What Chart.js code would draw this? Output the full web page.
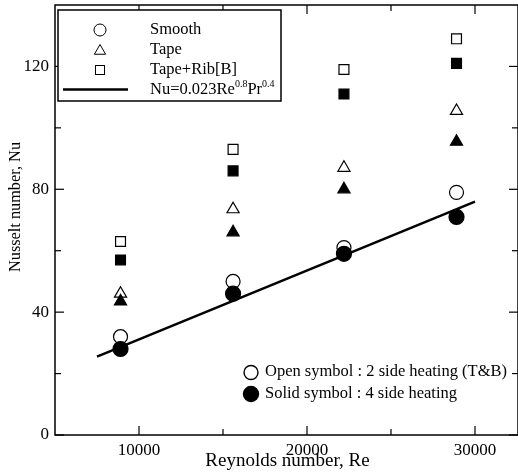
<!DOCTYPE html>
<html>
<head>
<meta charset="utf-8">
<script src="https://cdn.jsdelivr.net/npm/chart.js@4/dist/chart.umd.min.js"></script>
<style>
  html, body { margin: 0; padding: 0; background: #fff; }
  #wrap { position: relative; width: 518px; height: 475px; }
  canvas { display: block; }
</style>
</head>
<body>
<div id="wrap"><canvas id="c" width="518" height="475"></canvas></div>
<script>
// ---- data ----
const reynolds    = [8900, 15600, 22200, 28900];
const smoothOpen  = [32, 50, 61, 79];
const smoothSolid = [28, 46, 59, 71];
const tapeOpen    = [46, 73.5, 87, 105.5];
const tapeSolid   = [43.5, 66, 80, 95.5];
const ribOpen     = [63, 93, 119, 129];
const ribSolid    = [57, 86, 111, 121];
const fitRe       = [7500, 30000];
const fitNu       = [25.5, 76];
const xTickVals   = [10000, 20000, 30000];
const xMinorVals  = [15000, 25000];
const yTickVals   = [0, 40, 80, 120];
const yMinorVals  = [20, 60, 100];

const FONT = "'Liberation Serif', 'Times New Roman', serif";
const pts = (xs, ys) => xs.map((x, i) => ({x: x, y: ys[i]}));

function marker(data, style, radius, solid) {
  return {
    data: data,
    showLine: false,
    pointStyle: style,
    pointRadius: radius,
    pointHoverRadius: radius,
    pointBackgroundColor: solid ? '#000' : '#fff',
    pointBorderColor: '#000',
    pointBorderWidth: 1.2
  };
}

function noPad(s) { s.paddingTop = 0; s.paddingBottom = 0; s.paddingLeft = 0; s.paddingRight = 0; }

const frameAndTicks = {
  id: 'frameAndTicks',
  afterDraw(chart) {
    const ctx = chart.ctx;
    const a = chart.chartArea;
    const xs = chart.scales.x, ys = chart.scales.y;
    ctx.save();
    ctx.strokeStyle = '#000';
    ctx.lineWidth = 1.5;
    ctx.strokeRect(a.left, a.top, a.right - a.left, a.bottom - a.top);
    ctx.lineWidth = 1.2;
    const tick = (x1, y1, x2, y2) => { ctx.beginPath(); ctx.moveTo(x1, y1); ctx.lineTo(x2, y2); ctx.stroke(); };
    xTickVals.forEach(v => { const p = xs.getPixelForValue(v); tick(p, a.bottom, p, a.bottom - 9); tick(p, a.top, p, a.top + 9); });
    xMinorVals.forEach(v => { const p = xs.getPixelForValue(v); tick(p, a.bottom, p, a.bottom - 6); tick(p, a.top, p, a.top + 6); });
    yTickVals.forEach(v => { const p = ys.getPixelForValue(v); tick(a.left, p, a.left + 9, p); tick(a.right, p, a.right - 9, p); });
    yMinorVals.forEach(v => { const p = ys.getPixelForValue(v); tick(a.left, p, a.left + 6, p); tick(a.right, p, a.right - 6, p); });

    // axis titles
    ctx.fillStyle = '#000';
    ctx.font = '19px ' + FONT;
    ctx.textAlign = 'center';
    ctx.textBaseline = 'middle';
    ctx.fillText('Reynolds number, Re', 287.5, 461);
    ctx.save();
    ctx.translate(16, 207);
    ctx.rotate(-Math.PI / 2);
    ctx.font = '16.3px ' + FONT;
    ctx.fillText('Nusselt number, Nu', 0, 0);
    ctx.restore();

    // symbol helpers
    const circle = (x, y, r, solid) => { ctx.beginPath(); ctx.arc(x, y, r, 0, Math.PI * 2); ctx.fillStyle = solid ? '#000' : '#fff'; ctx.fill(); ctx.stroke(); };
    const tri = (x, y, r) => { ctx.beginPath(); ctx.moveTo(x, y - r); ctx.lineTo(x + r * 0.866, y + r / 2); ctx.lineTo(x - r * 0.866, y + r / 2); ctx.closePath(); ctx.fillStyle = '#fff'; ctx.fill(); ctx.stroke(); };
    const sq = (x, y, h) => { ctx.fillStyle = '#fff'; ctx.fillRect(x - h, y - h, 2 * h, 2 * h); ctx.strokeRect(x - h, y - h, 2 * h, 2 * h); };

    // legend box
    ctx.lineWidth = 1.5;
    ctx.fillStyle = '#fff';
    ctx.fillRect(58, 10, 223, 91);
    ctx.strokeRect(58, 10, 223, 91);
    ctx.lineWidth = 1;
    circle(100, 30, 6, false);
    tri(100, 51, 6.5);
    sq(100, 70, 4.5);
    ctx.lineWidth = 2.5;
    ctx.beginPath(); ctx.moveTo(63, 89.5); ctx.lineTo(128, 89.5); ctx.stroke();
    ctx.fillStyle = '#000';
    ctx.textAlign = 'left';
    ctx.textBaseline = 'middle';
    ctx.font = '16.5px ' + FONT;
    ctx.fillText('Smooth', 150, 30);
    ctx.fillText('Tape', 150, 50);
    ctx.fillText('Tape+Rib[B]', 150, 70);
    let tx = 150;
    const seg = (t, size, dy) => { ctx.font = size + 'px ' + FONT; ctx.fillText(t, tx, 90 + dy); tx += ctx.measureText(t).width; };
    seg('Nu=0.023Re', 16.5, 0);
    seg('0.8', 10, -6);
    seg('Pr', 16.5, 0);
    seg('0.4', 10, -6);

    // heating-mode note
    ctx.lineWidth = 1.4;
    circle(251, 372.5, 7, false);
    circle(251, 394, 7.5, true);
    ctx.fillStyle = '#000';
    ctx.font = '16.5px ' + FONT;
    ctx.textAlign = 'left';
    ctx.fillText('Open symbol : 2 side heating (T&B)', 265, 372);
    ctx.fillText('Solid symbol : 4 side heating', 265, 394);
    ctx.restore();
  }
};

new Chart(document.getElementById('c'), {
  type: 'scatter',
  data: {
    datasets: [
      Object.assign(marker(pts(reynolds, ribSolid), 'rect', 7, true), {label: 'Tape+Rib[B] (4 side)'}),
      Object.assign(marker(pts(reynolds, tapeSolid), 'triangle', 7, true), {label: 'Tape (4 side)'}),
      Object.assign(marker(pts(reynolds, smoothSolid), 'circle', 7.5, true), {label: 'Smooth (4 side)'}),
      Object.assign(marker(pts(reynolds, ribOpen), 'rect', 7, false), {label: 'Tape+Rib[B] (2 side)'}),
      Object.assign(marker(pts(reynolds, tapeOpen), 'triangle', 7, false), {label: 'Tape (2 side)'}),
      Object.assign(marker(pts(reynolds, smoothOpen), 'circle', 7, false), {label: 'Smooth (2 side)'}),
      {
        label: 'Nu=0.023Re^0.8Pr^0.4',
        data: pts(fitRe, fitNu),
        showLine: true,
        borderColor: '#000',
        borderWidth: 2.5,
        pointRadius: 0,
        pointHoverRadius: 0,
        fill: false
      }
    ]
  },
  options: {
    responsive: false,
    animation: false,
    devicePixelRatio: 1,
    layout: { autoPadding: false, padding: { top: 5, right: 0, left: 0, bottom: 0 } },
    plugins: { legend: { display: false }, tooltip: { enabled: false } },
    scales: {
      x: {
        type: 'linear',
        min: 5000,
        max: 32560,
        afterBuildTicks: s => { s.ticks = xTickVals.map(v => ({value: v})); },
        afterFit: s => { s.height = 40; noPad(s); },
        grid: { display: false, drawTicks: false },
        border: { display: false },
        ticks: { color: '#000', font: { family: FONT, size: 17 }, padding: 5, maxRotation: 0, autoSkip: false,
                 callback: v => String(v) }
      },
      y: {
        type: 'linear',
        min: 0,
        max: 140,
        afterBuildTicks: s => { s.ticks = yTickVals.map(v => ({value: v})); },
        afterFit: s => { s.width = 55; noPad(s); },
        grid: { display: false, drawTicks: false },
        border: { display: false },
        ticks: { color: '#000', font: { family: FONT, size: 17 }, padding: 6, autoSkip: false,
                 callback: v => String(v) }
      }
    }
  },
  plugins: [frameAndTicks]
});
</script>
</body>
</html>
